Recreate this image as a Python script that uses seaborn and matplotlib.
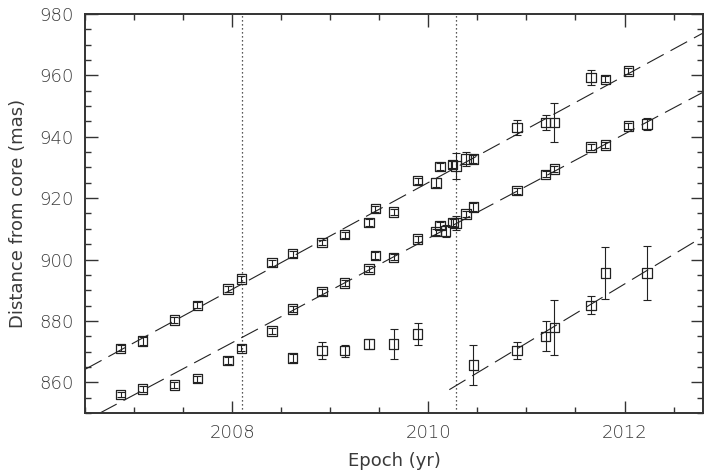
import matplotlib
matplotlib.use("Agg")
import matplotlib.pyplot as plt
from matplotlib.ticker import MultipleLocator
import pandas as pd
import seaborn as sns

sns.set_style("ticks")
plt.rcParams['font.family'] = ['DejaVu Sans']
plt.rcParams['font.weight'] = 'light'

# component A (upper track)
epoch_a = [2006.864, 2007.088, 2007.41, 2007.645, 2007.958, 2008.093, 2008.406,
           2008.617, 2008.916, 2009.147, 2009.395, 2009.459, 2009.647, 2009.89,
           2010.08, 2010.119, 2010.244, 2010.28, 2010.384, 2010.458, 2010.904,
           2011.196, 2011.284, 2011.658, 2011.804, 2012.039]
dist_a = [871.1, 873.4, 880.3, 885.1, 890.4, 893.7, 899.0,
          901.9, 905.5, 908.1, 912.0, 916.6, 915.5, 925.7,
          925.0, 930.3, 930.9, 930.5, 932.8, 932.8, 943.1,
          944.7, 944.6, 959.4, 958.7, 961.4]
err_a = [1.0, 1.2, 1.0, 1.0, 1.0, 1.0, 1.0,
         1.0, 0.8, 1.0, 1.2, 1.0, 1.0, 1.0,
         1.5, 1.2, 1.2, 4.2, 2.3, 1.2, 2.4,
         2.4, 6.4, 2.4, 1.0, 1.0]

# component B (middle track)
epoch_b = [2006.864, 2007.088, 2007.41, 2007.645, 2007.958, 2008.093, 2008.406,
           2008.617, 2008.916, 2009.147, 2009.395, 2009.459, 2009.647, 2009.89,
           2010.08, 2010.119, 2010.177, 2010.25, 2010.28, 2010.384, 2010.458,
           2010.904, 2011.196, 2011.284, 2011.658, 2011.804, 2012.039, 2012.229]
dist_b = [856.1, 857.8, 859.1, 861.2, 867.1, 871.1, 876.7,
          883.9, 889.5, 892.4, 896.9, 901.3, 900.7, 906.7,
          909.1, 911.0, 909.3, 912.1, 911.9, 914.9, 917.1,
          922.4, 927.8, 929.5, 936.6, 937.3, 943.5, 944.1]
err_b = [0.8, 1.0, 1.0, 1.0, 1.0, 1.0, 1.0,
         1.0, 1.0, 1.0, 1.0, 1.0, 1.0, 1.0,
         1.0, 1.2, 2.0, 1.2, 2.4, 1.0, 1.2,
         1.0, 1.0, 1.0, 1.0, 1.0, 1.0, 2.0]

# component C (lower, new knot)
epoch_c = [2008.617, 2008.916, 2009.147, 2009.395, 2009.647, 2009.89,
           2010.458, 2010.904, 2011.196, 2011.284, 2011.658, 2011.804, 2012.229]
dist_c = [867.9, 870.3, 870.3, 872.5, 872.5, 875.7,
          865.7, 870.4, 875.0, 877.9, 885.1, 895.6, 895.6]
err_c = [1.2, 2.8, 2.0, 1.5, 4.8, 3.7,
         6.6, 2.7, 4.9, 9.0, 2.9, 8.5, 8.7]

# linear fits (end points)
fit_a_t = [2006.5, 2012.8]
fit_a_v = [864.2, 973.8]
fit_b_t = [2006.653, 2012.8]
fit_b_v = [850.0, 954.5]
fit_c_t = [2010.214, 2012.803]
fit_c_v = [857.6, 907.5]

# epochs marked with dotted lines
event_epochs = [2008.10, 2010.28]

df = pd.concat([
    pd.DataFrame({'epoch': epoch_a, 'dist': dist_a, 'err': err_a, 'comp': 'A'}),
    pd.DataFrame({'epoch': epoch_b, 'dist': dist_b, 'err': err_b, 'comp': 'B'}),
    pd.DataFrame({'epoch': epoch_c, 'dist': dist_c, 'err': err_c, 'comp': 'C'}),
])
fits = pd.concat([
    pd.DataFrame({'epoch': fit_a_t, 'dist': fit_a_v, 'comp': 'A'}),
    pd.DataFrame({'epoch': fit_b_t, 'dist': fit_b_v, 'comp': 'B'}),
    pd.DataFrame({'epoch': fit_c_t, 'dist': fit_c_v, 'comp': 'C'}),
])

ink = '#222222'
txt = '#3a3a3a'
fig, ax = plt.subplots(figsize=(7.04, 4.70), dpi=100)
fig.subplots_adjust(left=0.1207, right=0.9986, bottom=0.1213, top=0.9702)

# fitted lines
for comp, g in fits.groupby('comp'):
    sns.lineplot(data=g, x='epoch', y='dist', color=ink, linewidth=0.8,
                 dashes=False, ax=ax, legend=False)
for line in ax.get_lines():
    line.set_dashes((17, 7))

for t in event_epochs:
    ax.axvline(t, color=ink, linestyle=(0, (1, 2.2)), linewidth=0.9)

# error bars and open squares
ax.errorbar(df['epoch'], df['dist'], yerr=df['err'], fmt='none',
            ecolor=ink, elinewidth=0.8, capsize=3, capthick=0.8)
sns.scatterplot(data=df, x='epoch', y='dist', marker='s', s=46,
                facecolor='none', edgecolor=ink, linewidth=0.9,
                ax=ax, legend=False)

ax.set_xlim(2006.5, 2012.8)
ax.set_ylim(850, 980)
ax.xaxis.set_major_locator(MultipleLocator(2))
ax.xaxis.set_minor_locator(MultipleLocator(0.5))
ax.yaxis.set_major_locator(MultipleLocator(20))
ax.yaxis.set_minor_locator(MultipleLocator(5))
ax.tick_params(which='both', direction='in', top=True, right=True,
               color='#333333', labelsize=13, labelcolor=txt, width=1.0)
ax.tick_params(which='major', length=9, pad=8)
ax.tick_params(which='minor', length=4.5)
for s in ax.spines.values():
    s.set_linewidth(1.4)
    s.set_color('#333333')

ax.set_xlabel('Epoch (yr)', fontsize=13, color=txt, labelpad=7)
ax.set_ylabel('Distance from core (mas)', fontsize=13, color=txt, labelpad=9)

plt.savefig('out.png', dpi=100)
